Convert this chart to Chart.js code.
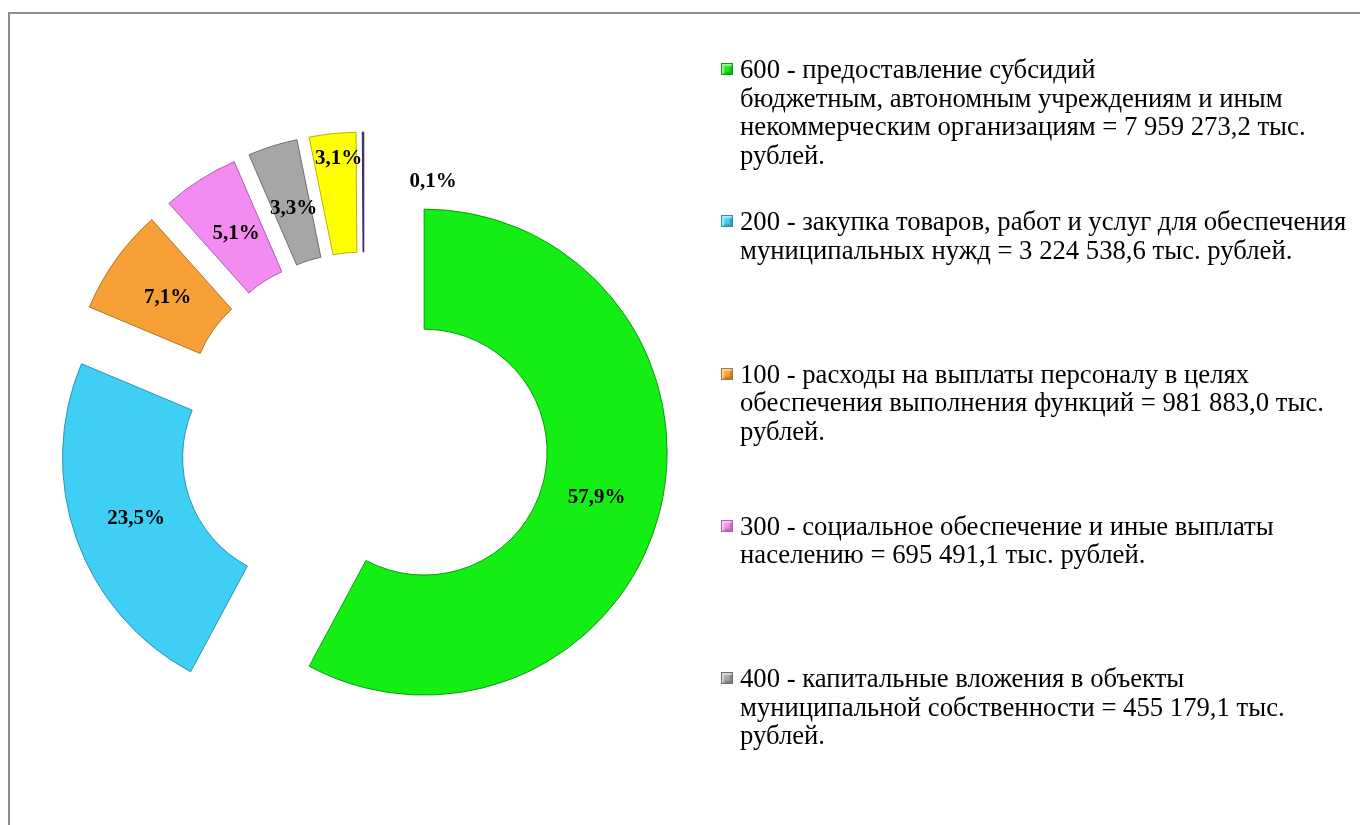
<!DOCTYPE html>
<html lang="ru">
<head>
<meta charset="utf-8">
<title>Расходы по видам</title>
<script src="https://cdn.jsdelivr.net/npm/chart.js@4/dist/chart.umd.min.js"></script>
<style>
    html, body { margin: 0; padding: 0; background: #fff; overflow: hidden; }
    body { width: 1360px; height: 825px; position: relative; font-family: 'Liberation Serif', 'Times New Roman', serif; }
    .frame { position: absolute; left: 8px; top: 12px; width: 1400px; height: 900px;
             border-left: 2px solid #8c8c8c; border-top: 2px solid #8c8c8c; }
    .chartBox { position: absolute; left: 0; top: 0; width: 728px; height: 874px; }
    .legend { position: absolute; left: 721px; top: 55px; width: 640px; }
    .legend__item { position: relative; height: 152.3px; }
    .legend__marker { position: absolute; left: 0; top: 8px; width: 10px; height: 10px; border: 1px solid;
                      box-shadow: inset 2px 2px 2px rgba(255,255,255,0.6), inset -2px -2px 2px rgba(0,0,0,0.25); }
    .legend__text { margin-left: 19px; font-size: 26.7px; line-height: 28.5px; color: #000; white-space: nowrap; }
</style>
</head>
<body>
<div class="frame"></div>
<div class="chartBox"><canvas id="myChart"></canvas></div>
<div class="legend"></div>
<script>
'use strict';

// виды расходов (последние два в легенде не видны)
const categories = ['600', '200', '100', '300', '400', '', ''];
const shares = [57.9, 23.5, 7.1, 5.1, 3.3, 3.1, 0.1];

const legendLines = [
    ['600 - предоставление субсидий',
     'бюджетным, автономным учреждениям и иным',
     'некоммерческим организациям = 7 959 273,2 тыс.',
     'рублей.'],
    ['200 - закупка товаров, работ и услуг для обеспечения',
     'муниципальных нужд = 3 224 538,6 тыс. рублей.'],
    ['100 - расходы на выплаты персоналу в целях',
     'обеспечения выполнения функций = 981 883,0 тыс.',
     'рублей.'],
    ['300 - социальное обеспечение и иные выплаты',
     'населению = 695 491,1 тыс. рублей.'],
    ['400 - капитальные вложения в объекты',
     'муниципальной собственности = 455 179,1 тыс.',
     'рублей.']
];

const sliceColors = ['#14ee14', '#40cff4', '#f7a038', '#f28cf0', '#a6a6a6', '#ffff00', '#5b3f86'];
const sliceEdges  = ['#0a9e0a', '#2a93b2', '#b8731f', '#b25cb0', '#6e6e6e', '#b5b500', '#3a2560'];

const explodeDistance = 62;
// сдвиг подписей от центра сектора, px
const labelNudge = [[-5, 1], [3, 0], [3, 3], [4, 3], [3, 5], [0, -35], [70, -10]];

const legend = document.querySelector('.legend');
legendLines.forEach((lines, i) => {
    const item = document.createElement('div');
    item.className = 'legend__item';
    const marker = document.createElement('div');
    marker.className = 'legend__marker';
    marker.style.background = sliceColors[i];
    marker.style.borderColor = sliceEdges[i];
    const text = document.createElement('div');
    text.className = 'legend__text';
    text.innerHTML = lines.join('<br>');
    item.append(marker, text);
    legend.append(item);
});

// раздвигаем сектора по биссектрисе, как в Excel
const explode = {
    id: 'explode',
    afterDatasetUpdate(chart, args) {
        args.meta.data.forEach(arc => {
            const mid = (arc.startAngle + arc.endAngle) / 2;
            arc.x += Math.cos(mid) * explodeDistance;
            arc.y += Math.sin(mid) * explodeDistance;
        });
    }
};

const percentLabels = {
    id: 'percentLabels',
    afterDatasetsDraw(chart) {
        const ctx = chart.ctx;
        const meta = chart.getDatasetMeta(0);
        ctx.save();
        ctx.font = 'bold 21px "Liberation Serif", "Times New Roman", serif';
        ctx.fillStyle = '#000';
        ctx.textAlign = 'center';
        ctx.textBaseline = 'middle';
        meta.data.forEach((arc, i) => {
            const mid = (arc.startAngle + arc.endAngle) / 2;
            const r = (arc.innerRadius + arc.outerRadius) / 2;
            const x = arc.x + Math.cos(mid) * r + labelNudge[i][0];
            const y = arc.y + Math.sin(mid) * r + labelNudge[i][1];
            ctx.fillText(shares[i].toFixed(1).replace('.', ',') + '%', x, y);
        });
        ctx.restore();
    }
};

const ctx = document.querySelector('#myChart').getContext('2d');

const myChart = new Chart(ctx, {
    type: 'doughnut',
    data: {
        labels: categories,
        datasets: [{
            data: shares,
            backgroundColor: sliceColors,
            borderColor: sliceEdges,
            borderWidth: 1,
            clip: false
        }]
    },
    options: {
        responsive: true,
        maintainAspectRatio: false,
        animation: false,
        events: [],
        radius: 243,
        cutout: '50.6%',
        layout: { padding: 0 },
        plugins: {
            legend: { display: false },
            tooltip: { enabled: false }
        }
    },
    plugins: [explode, percentLabels]
});
</script>
</body>
</html>
